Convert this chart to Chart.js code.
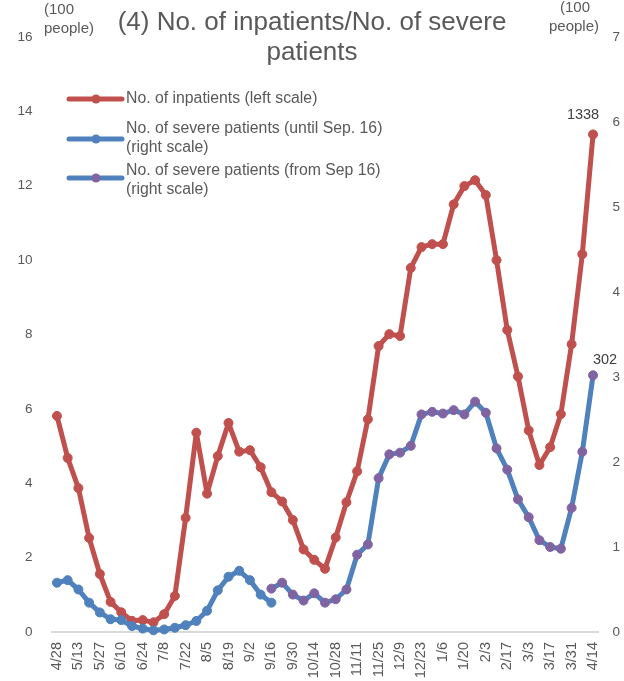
<!DOCTYPE html>
<html>
<head>
<meta charset="utf-8">
<script src="https://cdn.jsdelivr.net/npm/chart.js@4/dist/chart.umd.min.js"></script>
<style>
  html, body { margin: 0; padding: 0; background: #fff; }
  canvas { display: block; }
</style>
</head>
<body>
<canvas id="grafica" width="624" height="681"></canvas>
<script>
// weekly dates, Apr 2020 - Apr 2021
const fechas = [
  '4/28', '5/6', '5/13', '5/20', '5/27', '6/3', '6/10', '6/17', '6/24', '7/1',
  '7/8', '7/15', '7/22', '7/29', '8/5', '8/12', '8/19', '8/26', '9/2', '9/9',
  '9/16', '9/23', '9/30', '10/7', '10/14', '10/21', '10/28', '11/4', '11/11', '11/18',
  '11/25', '12/2', '12/9', '12/16', '12/23', '12/30', '1/6', '1/13', '1/20', '1/27',
  '2/3', '2/10', '2/17', '2/24', '3/3', '3/10', '3/17', '3/24', '3/31', '4/7', '4/14'
];

// values in hundreds of people
const hospitalizados = [
  5.81, 4.68, 3.87, 2.53, 1.56, 0.81, 0.53, 0.30, 0.32, 0.26,
  0.48, 0.97, 3.07, 5.36, 3.72, 4.73, 5.62, 4.85, 4.89, 4.43,
  3.76, 3.51, 3.01, 2.22, 1.94, 1.70, 2.54, 3.49, 4.32, 5.72,
  7.69, 8.01, 7.96, 9.79, 10.35, 10.43, 10.43, 11.50, 11.99, 12.15,
  11.75, 10.00, 8.12, 6.87, 5.42, 4.49, 4.97, 5.86, 7.74, 10.16, 13.38
];

const gravesHasta = [
  0.58, 0.61, 0.50, 0.345, 0.23, 0.15, 0.14, 0.07, 0.04, 0.02,
  0.03, 0.05, 0.08, 0.13, 0.25, 0.49, 0.65, 0.72, 0.61, 0.44, 0.345
];

const gravesDesde = [
  0.51, 0.58, 0.44, 0.37, 0.455, 0.345, 0.385, 0.50, 0.91, 1.03,
  1.81, 2.09, 2.11, 2.19, 2.56, 2.59, 2.57, 2.61, 2.56, 2.71,
  2.58, 2.16, 1.91, 1.56, 1.35, 1.08, 1.00, 0.98, 1.46, 2.12, 3.02
];

const tituloLineas = ['(4) No. of inpatients/No. of severe', 'patients'];
const unidadLineas = ['(100', 'people)'];
const leyendaTextos = [
  ['No. of inpatients (left scale)'],
  ['No. of severe patients (until Sep. 16)', '(right scale)'],
  ['No. of severe patients (from Sep 16)', '(right scale)']
];

const ROJO = '#C0504D';
const AZUL = '#4F81BD';
const MORADO = '#8064A2';
const GRIS = '#595959';
const FUENTE = '"Liberation Sans", Arial, sans-serif';

// series padded with nulls so each one covers its own period
const serieHasta = gravesHasta.concat(new Array(fechas.length - gravesHasta.length).fill(null));
const serieDesde = new Array(fechas.length - gravesDesde.length).fill(null).concat(gravesDesde);

const dibujoExtra = {
  id: 'dibujoExtra',
  afterDraw(chart) {
    const ctx = chart.ctx;
    ctx.save();
    ctx.fillStyle = GRIS;
    ctx.textBaseline = 'middle';

    // title
    ctx.font = '26px ' + FUENTE;
    ctx.textAlign = 'center';
    ctx.fillText(tituloLineas[0], 312, 23);
    ctx.fillText(tituloLineas[1], 312, 53);

    // unit labels for both axes
    ctx.font = '15px ' + FUENTE;
    ctx.textAlign = 'left';
    ctx.fillText(unidadLineas[0], 44, 10);
    ctx.fillText(unidadLineas[1], 44, 29);
    ctx.textAlign = 'center';
    ctx.fillText(unidadLineas[0], 575, 8);
    ctx.fillText(unidadLineas[1], 574, 27);

    // legend
    const items = [
      { linea: ROJO, punto: ROJO, y: 99, textoY: [99] },
      { linea: AZUL, punto: AZUL, y: 139, textoY: [129, 148] },
      { linea: AZUL, punto: MORADO, y: 178, textoY: [171, 190] }
    ];
    ctx.font = '15.8px ' + FUENTE;
    ctx.textAlign = 'left';
    items.forEach((item, i) => {
      ctx.strokeStyle = item.linea;
      ctx.lineWidth = 5;
      ctx.lineCap = 'round';
      ctx.beginPath();
      ctx.moveTo(69, item.y);
      ctx.lineTo(122, item.y);
      ctx.stroke();
      ctx.fillStyle = item.punto;
      ctx.beginPath();
      ctx.arc(96, item.y, 4.5, 0, Math.PI * 2);
      ctx.fill();
      ctx.fillStyle = GRIS;
      leyendaTextos[i].forEach((t, j) => ctx.fillText(t, 126, item.textoY[j]));
    });

    // labels on the last points
    ctx.font = '14.5px ' + FUENTE;
    ctx.fillStyle = '#404040';
    ctx.textAlign = 'center';
    const ultimo = fechas.length - 1;
    const pRojo = chart.getDatasetMeta(0).data[ultimo];
    ctx.fillText(String(Math.round(hospitalizados[ultimo] * 100)), pRojo.x - 10, pRojo.y - 19);
    const pMorado = chart.getDatasetMeta(2).data[ultimo];
    ctx.fillText(String(Math.round(serieDesde[ultimo] * 100)), pMorado.x + 12, pMorado.y - 15);

    ctx.restore();
  }
};

function estiloSerie(color, puntoColor) {
  return {
    borderColor: color,
    backgroundColor: puntoColor,
    pointBackgroundColor: puntoColor,
    pointBorderColor: puntoColor,
    pointBorderWidth: 1,
    pointRadius: 4.5,
    borderWidth: 5,
    borderJoinStyle: 'round',
    borderCapStyle: 'round',
    tension: 0,
    fill: false,
    clip: false
  };
}

new Chart(document.getElementById('grafica').getContext('2d'), {
  type: 'line',
  data: {
    labels: fechas,
    datasets: [
      Object.assign({ label: leyendaTextos[0].join(' '), data: hospitalizados, yAxisID: 'y', order: 3 }, estiloSerie(ROJO, ROJO)),
      Object.assign({ label: leyendaTextos[1].join(' '), data: serieHasta, yAxisID: 'y1', order: 2 }, estiloSerie(AZUL, AZUL)),
      Object.assign({ label: leyendaTextos[2].join(' '), data: serieDesde, yAxisID: 'y1', order: 1 }, estiloSerie(AZUL, MORADO))
    ]
  },
  options: {
    responsive: false,
    animation: false,
    layout: { padding: { top: 37, left: 0, right: 0, bottom: 0 } },
    plugins: {
      legend: { display: false },
      title: { display: false },
      tooltip: { enabled: false }
    },
    scales: {
      x: {
        offset: true,
        grid: { display: false, drawTicks: false },
        border: { display: true, color: '#D9D9D9', width: 2 },
        ticks: {
          autoSkip: false,
          minRotation: 90,
          maxRotation: 90,
          padding: 10,
          color: GRIS,
          font: { family: FUENTE, size: 14.5 },
          callback: (valor, i) => (i % 2 === 0 ? fechas[i] : '')
        },
        afterFit: (escala) => { escala.height = 49; }
      },
      y: {
        position: 'left',
        min: 0,
        max: 16,
        grid: { display: false, drawTicks: false },
        border: { display: false },
        ticks: {
          stepSize: 2,
          padding: 19,
          color: GRIS,
          font: { family: FUENTE, size: 13.5 }
        },
        afterFit: (escala) => { escala.width = 51.6; }
      },
      y1: {
        position: 'right',
        min: 0,
        max: 7,
        grid: { display: false, drawTicks: false },
        border: { display: false },
        ticks: {
          stepSize: 1,
          padding: 14,
          color: GRIS,
          font: { family: FUENTE, size: 13.5 }
        },
        afterFit: (escala) => { escala.width = 25.6; }
      }
    }
  },
  plugins: [dibujoExtra]
});
</script>
</body>
</html>
